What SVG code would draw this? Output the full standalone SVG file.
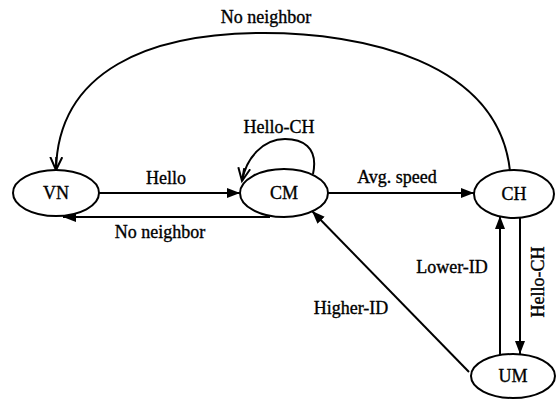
<svg xmlns="http://www.w3.org/2000/svg" width="557" height="400" viewBox="0 0 557 400">
<style>
.n{fill:#fff;stroke:#000;stroke-width:2}
.t{font-family:"Liberation Serif","Times New Roman",serif;font-size:18px;fill:#000;stroke:#000;stroke-width:0.35;text-anchor:middle}
.e{fill:none;stroke:#000;stroke-width:2}
</style>
<defs>
<marker id="a" markerWidth="14" markerHeight="12" refX="13" refY="5" orient="auto" markerUnits="userSpaceOnUse" viewBox="0 0 14 10">
<path d="M0,0 L13,5 L0,10 Z" fill="#000"/>
</marker>
<marker id="o" markerWidth="16" markerHeight="14" refX="13" refY="7" orient="auto" markerUnits="userSpaceOnUse" viewBox="0 0 16 14">
<path d="M0,1 L13,7 L0,13 M0,7 L13,7" fill="none" stroke="#000" stroke-width="2"/>
</marker>
</defs>
<rect width="557" height="400" fill="#fff"/>
<g id="connectors">
<path class="e" d="M510,171 C498,60 360,33 264,33 C150,33 58,70 56,170" marker-end="url(#o)"/>
<path class="e" d="M313,174 C319,146 301,139 285,139 C263,139 246,158 242,181" marker-end="url(#o)"/>
<line class="e" x1="99" y1="193" x2="240" y2="193" marker-end="url(#a)"/>
<line class="e" x1="270" y1="217" x2="63" y2="217" marker-end="url(#a)"/>
<line class="e" x1="328" y1="193" x2="474" y2="193" marker-end="url(#a)"/>
<line class="e" x1="500" y1="355" x2="500" y2="216" marker-end="url(#a)"/>
<line class="e" x1="520" y1="217" x2="520" y2="354" marker-end="url(#a)"/>
<line class="e" x1="469" y1="372" x2="312" y2="211" marker-end="url(#a)"/>
<text class="t" x="266" y="23">No neighbor</text>
<text class="t" x="279" y="133">Hello-CH</text>
<text class="t" x="166" y="184">Hello</text>
<text class="t" x="160" y="238">No neighbor</text>
<text class="t" x="397" y="183">Avg. speed</text>
<text class="t" x="452" y="273">Lower-ID</text>
<text class="t" x="351" y="314">Higher-ID</text>
<text class="t" transform="translate(544,282) rotate(-90)">Hello-CH</text>
</g>
<g id="VN"><ellipse class="n" cx="56" cy="193" rx="43" ry="23"/><text class="t" x="56" y="199">VN</text></g>
<g id="CM"><ellipse class="n" cx="284" cy="193" rx="44" ry="24"/><text class="t" x="284" y="199">CM</text></g>
<g id="CH"><ellipse class="n" cx="514" cy="194" rx="40" ry="24"/><text class="t" x="514" y="200">CH</text></g>
<g id="UM"><ellipse class="n" cx="513" cy="376" rx="42" ry="22"/><text class="t" x="513" y="382">UM</text></g>
</svg>
